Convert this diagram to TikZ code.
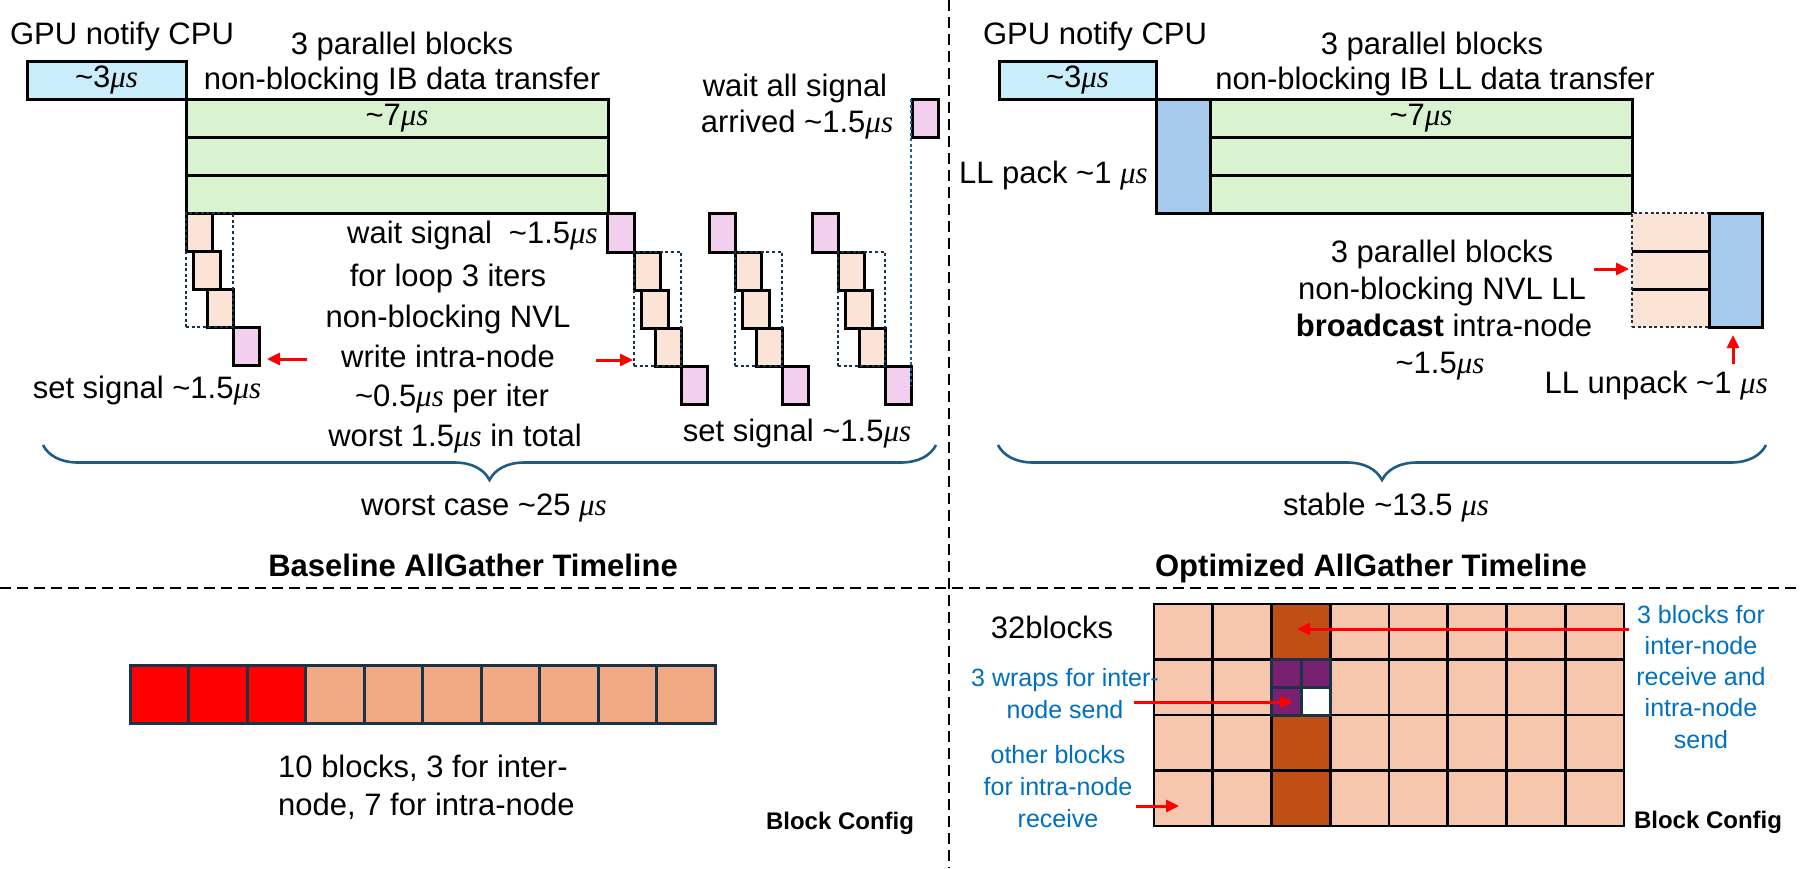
\documentclass[tikz,border=0pt]{standalone}
\usepackage{fontspec}
\setmainfont{Liberation Sans}
\newfontfamily\serifit{Liberation Serif}
\usetikzlibrary{arrows.meta,decorations.pathreplacing,fit}
\definecolor{cLB}{HTML}{CAEDFB}
\definecolor{cGr}{HTML}{D9F2D0}
\definecolor{cOr}{HTML}{FBE3D6}
\definecolor{cPk}{HTML}{F2CEEF}
\definecolor{cMB}{HTML}{A6CAEC}
\definecolor{cNavy}{HTML}{1B3347}
\definecolor{cTeal}{HTML}{1F6289}
\definecolor{cBrace}{HTML}{1F5C85}
\definecolor{cCell}{HTML}{F6C6AD}
\definecolor{cDark}{HTML}{C04F15}
\definecolor{cPur}{HTML}{782170}
\definecolor{cSal}{HTML}{F1A983}
\definecolor{cBT}{HTML}{0070C0}
\newcommand\us{{\serifit\itshape μs}}
\newcommand\tld{\textasciitilde}
\newcommand\mainsz{\fontsize{31}{37}\selectfont}
\newcommand\smsz{\fontsize{25}{31}\selectfont}
\newcommand\cfgsz{\fontsize{24}{29}\selectfont\bfseries}
\newcommand\rb[6]{\node[#1,fit={(#3,#4)(#5,#6)},inner sep=0pt,outer sep=0pt] (#2) {};}
\newcommand\stair[3]{%
 \rb{orb}{#1a}{#2}{#3}{#2+26}{#3+38}
 \rb{orb}{#1b}{#2+7}{#3+38}{#2+34}{#3+76}
 \rb{orb}{#1c}{#2+21}{#3+76}{#2+47}{#3+114}
 \rb{pkb}{#1p}{#2+47}{#3+114}{#2+73}{#3+152}
 \rb{dotb}{#1d}{#2}{#3}{#2+47}{#3+114}
}
\begin{document}
\begin{tikzpicture}[x=1pt,y=-1pt,
  bk/.style={draw=black,line width=3pt},
  lbx/.style={bk,fill=cLB},
  grx/.style={bk,fill=cGr},
  orb/.style={bk,fill=cOr},
  pkb/.style={bk,fill=cPk},
  mbx/.style={bk,fill=cMB},
  dotb/.style={draw=cNavy,line width=2.8pt,dash pattern=on 3pt off 2.6pt},
  rarr/.style={draw=red,line width=3pt,-{Triangle[length=13pt,width=12pt]}},
  sepl/.style={draw=black,line width=2.4pt,dash pattern=on 11pt off 6pt},
  brc/.style={draw=cBrace,line width=2.6pt,decorate,decoration={brace,mirror,amplitude=35pt}},
  txt/.style={font=\mainsz,inner sep=0pt,anchor=base},
  ttl/.style={font=\mainsz\bfseries,inner sep=0pt,anchor=base},
  btx/.style={font=\smsz,text=cBT,inner sep=0pt,anchor=base},
  cfg/.style={font=\cfgsz,inner sep=0pt,anchor=base},
  cell/.style={draw=black,line width=2.6pt,fill=cCell},
]
\useasboundingbox (0,0) rectangle (1802,868);
\fill[white] (0,0) rectangle (1802,868);

% ---------------- separators
\coordinate (vt) at (949,0); \coordinate (vb) at (949,868);
\coordinate (hl) at (0,588); \coordinate (hr) at (1802,588);
\draw[sepl] (vt) -- (vb);
\draw[sepl] (hl) -- (hr);

% ---------------- baseline timeline
\node[txt] (gnc1) at (122,44) {GPU notify CPU};
\rb{lbx}{cpu1}{27}{61}{186}{99}
\node[txt,anchor=center] (t3a) at (cpu1) {\tld3\us};
\rb{grx}{ib1a}{186}{99}{608}{137}
\rb{grx}{ib1b}{186}{137}{608}{175}
\rb{grx}{ib1c}{186}{175}{608}{213}
\node[txt,anchor=center] (t7a) at (ib1a) {\tld7\us};
\node[txt] (pb1) at (402,54) {3 parallel blocks};
\node[txt] (nb1) at (402,89) {non-blocking IB data transfer};

\stair{S1}{186}{213}
\rb{pkb}{W2}{607}{213}{634}{252}
\stair{S2}{634}{252}
\rb{pkb}{W3}{709}{213}{735}{252}
\stair{S3}{735}{252}
\rb{pkb}{W4}{812}{213}{838}{252}
\stair{S4}{838}{252}
\rb{pkb}{WA}{912}{99}{938}{137}
\coordinate (dl1) at (911,99); \coordinate (dl2) at (911,386);
\draw[draw=cTeal,line width=2.6pt,dash pattern=on 3pt off 2.6pt] (dl1) -- (dl2);

\node[txt,anchor=base east] (ws) at (598,243) {wait signal\hspace{17pt}\tld1.5\us};
\node[txt] (fl1) at (448,286) {for loop 3 iters};
\node[txt] (fl2) at (448,327) {non-blocking NVL};
\node[txt] (fl3) at (448,367) {write intra-node};
\node[txt] (fl4) at (452,406) {\tld0.5\us\ per iter};
\node[txt] (fl5) at (455,446) {worst 1.5\us\ in total};
\node[txt] (wa1) at (795,96) {wait all signal};
\node[txt] (wa2) at (797,132) {arrived \tld1.5\us};
\node[txt] (ss1) at (147,398) {set signal \tld1.5\us};
\node[txt] (ss2) at (797,441) {set signal \tld1.5\us};

\coordinate (a1s) at (307,359); \coordinate (a1e) at (267,359);
\coordinate (a2s) at (596,360); \coordinate (a2e) at (633,360);
\draw[rarr] (a1s) -- (a1e);
\draw[rarr] (a2s) -- (a2e);

\coordinate (b1l) at (43,445); \coordinate (b1r) at (936,445);
\draw[brc] (b1l) -- (b1r);
\node[txt] (wc) at (484,515) {worst case \tld25 \us};
\node[ttl] (tt1) at (473,576) {Baseline AllGather Timeline};

% ---------------- optimized timeline
\node[txt] (gnc2) at (1095,44) {GPU notify CPU};
\rb{lbx}{cpu2}{999}{61}{1156}{99}
\node[txt,anchor=center] (t3b) at (cpu2) {\tld3\us};
\rb{mbx}{llp}{1156}{99}{1210}{213}
\rb{grx}{ib2a}{1210}{99}{1632}{137}
\rb{grx}{ib2b}{1210}{137}{1632}{175}
\rb{grx}{ib2c}{1210}{175}{1632}{213}
\node[txt,anchor=center] (t7b) at (ib2a) {\tld7\us};
\node[txt] (pb2) at (1432,54) {3 parallel blocks};
\node[txt] (nb2) at (1435,89) {non-blocking IB LL data transfer};
\node[txt,anchor=base east] (llpt) at (1148,183) {LL pack \tld1 \us};

\rb{fill=cOr}{nv1}{1632}{213}{1709}{251}
\rb{fill=cOr}{nv2}{1632}{251}{1709}{289}
\rb{fill=cOr}{nv3}{1632}{289}{1709}{327}
\draw[black,line width=3pt] (nv1.south west) -- (nv1.south east) (nv2.south west) -- (nv2.south east);
\rb{dotb}{nvd}{1632}{213}{1709}{327}
\rb{mbx}{llu}{1709}{213}{1762}{327}

\node[txt] (bc1) at (1442,262) {3 parallel blocks};
\node[txt] (bc2) at (1442,299) {non-blocking NVL LL};
\node[txt] (bc3) at (1444,336) {\textbf{broadcast} intra-node};
\node[txt] (bc4) at (1440,373) {\tld1.5\us};
\node[txt,anchor=base east] (llut) at (1768,393) {LL unpack \tld1 \us};
\coordinate (a3s) at (1594,269); \coordinate (a3e) at (1629,269);
\coordinate (a4s) at (1733,364); \coordinate (a4e) at (1733,335);
\draw[rarr] (a3s) -- (a3e);
\draw[rarr] (a4s) -- (a4e);

\coordinate (b2l) at (998,445); \coordinate (b2r) at (1766,445);
\draw[brc] (b2l) -- (b2r);
\node[txt] (st) at (1386,515) {stable \tld13.5 \us};
\node[ttl] (tt2) at (1371,576) {Optimized AllGather Timeline};

% ---------------- block config (baseline)
\foreach \i in {0,...,9}{
  \ifnum\i<3 \def\cc{red}\else\def\cc{cSal}\fi
  \node[draw=cNavy,line width=3pt,fill=\cc,inner sep=0pt,outer sep=0pt,
        fit={({130+\i*58.5},665)({130+(\i+1)*58.5},723)}] (bar\i) {};
}
\node[txt,anchor=base west] (bl1) at (278,777) {10 blocks, 3 for inter-};
\node[txt,anchor=base west] (bl2) at (278,815) {node, 7 for intra-node};
\node[cfg] (cfg1) at (840,829) {Block Config};

% ---------------- block config (optimized)
\foreach \c in {0,...,7}{\foreach \r in {0,...,3}{
  \node[cell,inner sep=0pt,outer sep=0pt,
        fit={({1154+\c*58.75},{604+\r*55.5})({1154+(\c+1)*58.75},{604+(\r+1)*55.5})}] (g\c\r) {};
}}
\foreach \r in {0,2,3}{
  \node[cell,fill=cDark,inner sep=0pt,outer sep=0pt,
        fit={(1271.5,{604+\r*55.5})(1330.25,{604+(\r+1)*55.5})}] (d\r) {};
}
\rb{draw=cNavy,line width=3pt,fill=cPur}{pu1}{1271.5}{659.5}{1301}{687.5}
\rb{draw=cNavy,line width=3pt,fill=cPur}{pu2}{1301}{659.5}{1330.25}{687.5}
\rb{draw=cNavy,line width=3pt,fill=cPur}{pu3}{1271.5}{687.5}{1301}{715}
\rb{draw=cNavy,line width=3pt,fill=white}{pu4}{1301}{687.5}{1330.25}{715}

\node[txt] (b32) at (1052,638) {32blocks};
\node[btx] (r1) at (1701,623) {3 blocks for};
\node[btx] (r2) at (1701,654) {inter-node};
\node[btx] (r3) at (1701,685) {receive and};
\node[btx] (r4) at (1701,716) {intra-node};
\node[btx] (r5) at (1701,748) {send};
\node[btx] (w1) at (1065,686) {3 wraps for inter-};
\node[btx] (w2) at (1065,718) {node send};
\node[btx] (o1) at (1058,763) {other blocks};
\node[btx] (o2) at (1058,795) {for intra-node};
\node[btx] (o3) at (1058,827) {receive};
\node[cfg] (cfg2) at (1708,828) {Block Config};

\coordinate (g1s) at (1629,629); \coordinate (g1e) at (1297,629);
\coordinate (g2s) at (1134,702); \coordinate (g2e) at (1293,702);
\coordinate (g3s) at (1136,806); \coordinate (g3e) at (1179,806);
\draw[rarr] (g1s) -- (g1e);
\draw[rarr] (g2s) -- (g2e);
\draw[rarr] (g3s) -- (g3e);
\end{tikzpicture}
\end{document}
